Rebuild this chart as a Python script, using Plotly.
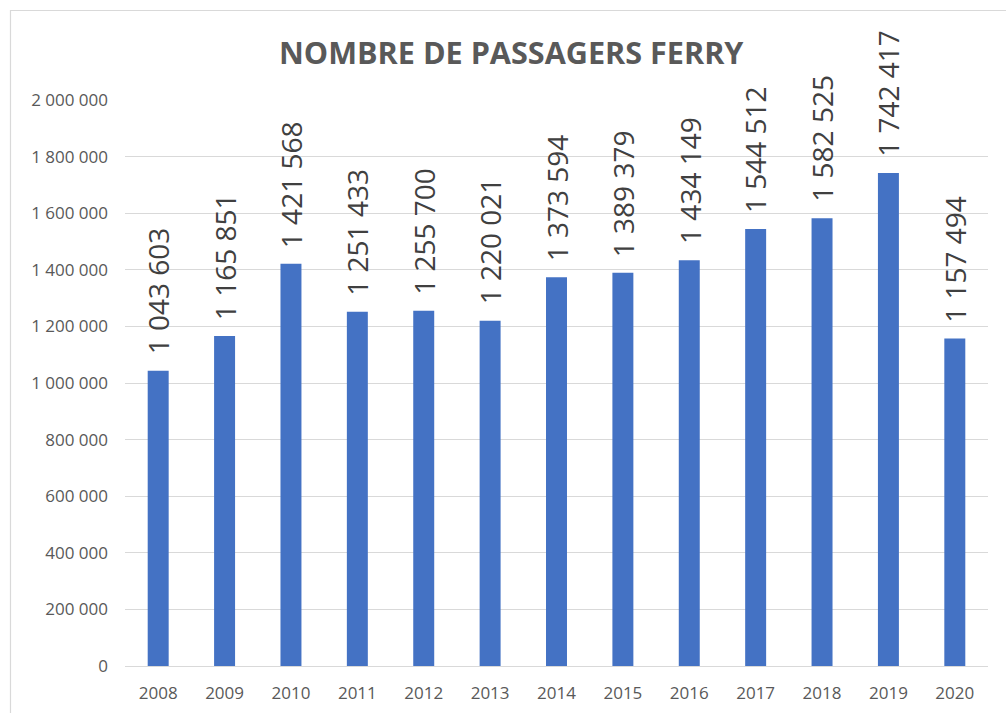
import plotly.graph_objects as go

years = ["2008", "2009", "2010", "2011", "2012", "2013", "2014",
         "2015", "2016", "2017", "2018", "2019", "2020"]
passagers = [1043603, 1165851, 1421568, 1251433, 1255700, 1220021, 1373594,
             1389379, 1434149, 1544512, 1582525, 1742417, 1157494]
y_ticks = [0, 200000, 400000, 600000, 800000, 1000000, 1200000,
           1400000, 1600000, 1800000, 2000000]
title_text = "NOMBRE DE PASSAGERS FERRY"


def fmt(v):
    return f"{v:,}".replace(",", " ")


W, H = 1006, 713
ML, MR, MT, MB = 125, 18, 100, 47
pw = W - ML - MR
ph = H - MT - MB

fig = go.Figure()
fig.add_trace(go.Bar(
    x=years, y=passagers,
    marker=dict(color="#4472C4", line=dict(width=0)),
    hoverinfo="x+y",
))

for i, v in enumerate(passagers):
    fig.add_annotation(
        x=i, y=v, xref="x", yref="y",
        text=fmt(v), showarrow=False, textangle=-90,
        xanchor="center", yanchor="bottom", yshift=14,
        font=dict(family="Open Sans", size=28, color="#404040"),
    )

fig.add_annotation(
    x=(511.5 - ML) / pw, y=(H - MB - 52) / ph, xref="paper", yref="paper",
    text=f"<b>{title_text}</b>", showarrow=False,
    xanchor="center", yanchor="middle",
    font=dict(family="Open Sans", size=30.6, color="#595959"),
)

# outer chart border (cropped at right / bottom)
fig.add_shape(
    type="rect", xref="paper", yref="paper",
    x0=(10.5 - ML) / pw, x1=(1030 - ML) / pw,
    y0=(H - MB - 740) / ph, y1=(H - MB - 10.5) / ph,
    line=dict(color="#D9D9D9", width=1.2), fillcolor="rgba(0,0,0,0)",
    layer="below",
)

fig.update_layout(
    width=W, height=H,
    margin=dict(l=ML, r=MR, t=MT, b=MB, pad=0),
    paper_bgcolor="white", plot_bgcolor="white",
    bargap=0.684,
    showlegend=False,
    font=dict(family="Open Sans", size=17, color="#595959"),
)
fig.update_xaxes(
    type="category", range=[-0.5, len(years) - 0.5], autorange=False,
    automargin=False,
    showgrid=False, zeroline=False, showline=False,
    ticks="", ticklabelstandoff=15,
    tickfont=dict(family="Open Sans", size=17, color="#595959"),
)
fig.update_yaxes(
    range=[0, 2000000], autorange=False, automargin=False,
    tickvals=y_ticks, ticktext=[fmt(t) for t in y_ticks],
    showgrid=True, gridcolor="#D9D9D9", gridwidth=1,
    zeroline=True, zerolinecolor="#D9D9D9", zerolinewidth=1,
    showline=False, ticks="", ticklabelstandoff=16,
    tickfont=dict(family="Open Sans", size=17, color="#595959"),
)

fig.write_html(
    "out.html",
    config={"displayModeBar": False},
    post_script="document.body.style.margin='0';document.body.style.overflow='hidden';",
)
